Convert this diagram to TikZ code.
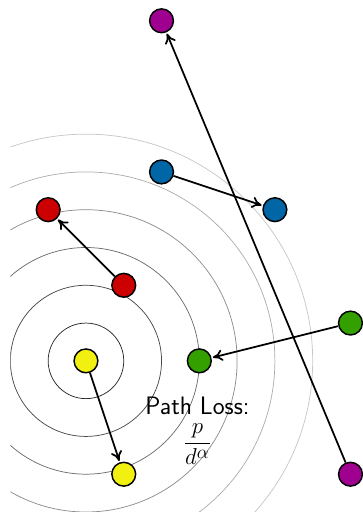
\documentclass[tikz,border=0pt]{standalone}
\usepackage{amsmath,amssymb}
\usepackage{tikz}
\usetikzlibrary{arrows.meta}
\definecolor{ptmagenta}{HTML}{A0008F}
\definecolor{ptblue}{HTML}{0066A6}
\definecolor{ptred}{HTML}{CC0000}
\definecolor{ptyellow}{HTML}{F2F010}
\definecolor{ptgreen}{HTML}{33A000}
\tikzset{
  dev/.style     = {circle, draw, line width=1.1pt, minimum size=6.3mm, inner sep=0pt},
  link/.style    = {-{To[length=2.6mm, width=3mm]}, line width=1.3pt, shorten >=1pt},
  ring/.style    = {line width=0.55pt},
  losslbl/.style = {font=\fontsize{19}{22}\selectfont\sffamily, align=center, inner sep=1pt},
}

\begin{document}
\begin{tikzpicture}
    \useasboundingbox (-2.275,-4) rectangle (7.33,9.55);

    % Rings round the sender
    \begin{scope}
      \clip (-2,-4) rectangle (7.33,9.55);
      \foreach \r/\shade in {1/85, 2/72, 3/58, 4/45, 5/32, 6/22}
        \draw[ring, black!\shade] (0,0) circle (\r);
    \end{scope}

    \node[losslbl] (loss) at (2.95,-1.85) {Path Loss:\\[4pt] $\dfrac{p}{d^\alpha}$};

    \node[dev, fill=ptyellow]  (y0) at (0,0)  {};
    \node[dev, fill=ptyellow]  (y1) at (1,-3) {};
    \node[dev, fill=ptred]     (r0) at (1,2)  {};
    \node[dev, fill=ptred]     (r1) at (-1,4) {};
    \node[dev, fill=ptblue]    (b0) at (2,5)  {};
    \node[dev, fill=ptblue]    (b1) at (5,4)  {};
    \node[dev, fill=ptgreen]   (g0) at (7,1)  {};
    \node[dev, fill=ptgreen]   (g1) at (3,0)  {};
    \node[dev, fill=ptmagenta] (m0) at (7,-3) {};
    \node[dev, fill=ptmagenta] (m1) at (2,9)  {};

    \draw[link] (y0)--(y1);
    \draw[link] (r0)--(r1);
    \draw[link] (b0)--(b1);
    \draw[link] (g0)--(g1);
    \draw[link] (m0)--(m1);
\end{tikzpicture}
\end{document}
